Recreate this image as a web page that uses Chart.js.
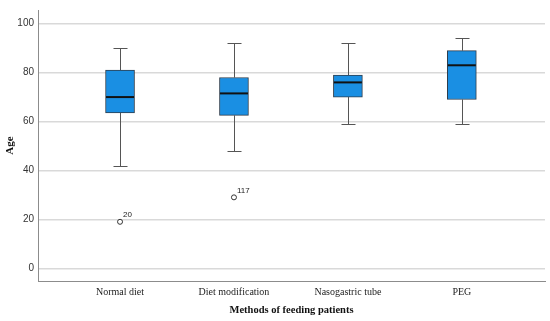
<!DOCTYPE html>
<html lang="en">
<head>
<meta charset="UTF-8">
<title>Age by method of feeding</title>
<script src="https://cdn.jsdelivr.net/npm/chart.js"></script>
<style>
  html, body { margin: 0; padding: 0; background: #fff; }
</style>
</head>
<body>
<canvas id="ageChart" width="550" height="321"></canvas>
<script>
// box plot summaries
const categories = ['Normal diet', 'Diet modification', 'Nasogastric tube', 'PEG'];
const whiskerMin = [42, 48, 59, 59];
const q1 = [63.5, 62.5, 70, 69];
const median = [70, 71.5, 76, 83];
const q3 = [81, 78, 79, 89];
const whiskerMax = [90, 92, 92, 94];

// outliers (category index, age, case number)
const outlierGroup = [0, 1];
const outlierAge = [19, 29];
const outlierCase = ['20', '117'];

const yTicks = [0, 20, 40, 60, 80, 100];

const boxExtras = {
    id: 'boxExtras',
    beforeDatasetsDraw(chart) {
        const { ctx, scales: { x, y } } = chart;
        ctx.save();
        ctx.strokeStyle = '#555';
        ctx.lineWidth = 1;
        categories.forEach((c, i) => {
            const cx = Math.round(x.getPixelForValue(i)) + 0.5;
            const capHalf = 7;
            [[whiskerMax[i], q3[i]], [whiskerMin[i], q1[i]]].forEach(([end, edge]) => {
                const yEnd = Math.round(y.getPixelForValue(end)) + 0.5;
                ctx.beginPath();
                ctx.moveTo(cx, y.getPixelForValue(edge));
                ctx.lineTo(cx, yEnd);
                ctx.moveTo(cx - capHalf, yEnd);
                ctx.lineTo(cx + capHalf, yEnd);
                ctx.stroke();
            });
        });
        ctx.restore();
    },
    afterDatasetsDraw(chart) {
        const { ctx, scales: { x, y } } = chart;
        ctx.save();
        // medians
        ctx.strokeStyle = '#111';
        ctx.lineWidth = 2;
        categories.forEach((c, i) => {
            const cx = x.getPixelForValue(i);
            const my = y.getPixelForValue(median[i]);
            ctx.beginPath();
            ctx.moveTo(cx - 14, my);
            ctx.lineTo(cx + 14, my);
            ctx.stroke();
        });
        // outlier case labels
        ctx.fillStyle = '#222';
        ctx.font = '8px "Liberation Sans"';
        ctx.textBaseline = 'bottom';
        outlierGroup.forEach((g, i) => {
            const px = x.getPixelForValue(g);
            const py = y.getPixelForValue(outlierAge[i]);
            ctx.fillText(outlierCase[i], px + 3, py - 3);
        });
        ctx.restore();
    }
};

new Chart(document.getElementById('ageChart'), {
    data: {
        datasets: [
            {
                type: 'bar',
                data: categories.map((c, i) => ({ x: i, y: [q1[i], q3[i]] })),
                backgroundColor: '#1a8fe3',
                borderColor: '#2e3d4c',
                borderWidth: 1,
                borderSkipped: false,
                barThickness: 29
            },
            {
                type: 'scatter',
                data: outlierGroup.map((g, i) => ({ x: g, y: outlierAge[i] })),
                pointRadius: 2.5,
                pointBackgroundColor: '#fff',
                pointBorderColor: '#333',
                pointBorderWidth: 1
            }
        ]
    },
    options: {
        responsive: false,
        animation: false,
        layout: { padding: { top: 5, right: 4, left: 0, bottom: 0 } },
        plugins: { legend: { display: false }, tooltip: { enabled: false } },
        scales: {
            x: {
                type: 'linear',
                offset: false,
                min: -0.72,
                max: 3.73,
                afterBuildTicks: s => { s.ticks = categories.map((c, i) => ({ value: i })); },
                afterFit: s => { s.height = 40; },
                grid: { display: false, drawTicks: false, offset: false },
                border: { color: '#8c8c8c', width: 1 },
                ticks: {
                    callback: v => categories[v],
                    autoSkip: false,
                    maxRotation: 0,
                    padding: 5,
                    color: '#222',
                    font: { family: 'Liberation Serif', size: 10 }
                },
                title: {
                    display: true,
                    text: 'Methods of feeding patients',
                    color: '#111',
                    font: { family: 'Liberation Serif', size: 10.5, weight: 'bold' }
                }
            },
            y: {
                min: -5.2,
                max: 105.6,
                afterBuildTicks: s => { s.ticks = yTicks.map(v => ({ value: v })); },
                afterFit: s => { s.width = 38; },
                grid: { color: '#d9d9d9', lineWidth: 1.5, drawTicks: false },
                border: { color: '#8c8c8c', width: 1 },
                ticks: {
                    padding: 4,
                    color: '#333',
                    font: { family: 'Liberation Sans', size: 10 }
                },
                title: {
                    display: true,
                    text: 'Age',
                    color: '#111',
                    padding: { top: 4, bottom: 0 },
                    font: { family: 'Liberation Serif', size: 11, weight: 'bold' }
                }
            }
        }
    },
    plugins: [boxExtras]
});
</script>
</body>
</html>
